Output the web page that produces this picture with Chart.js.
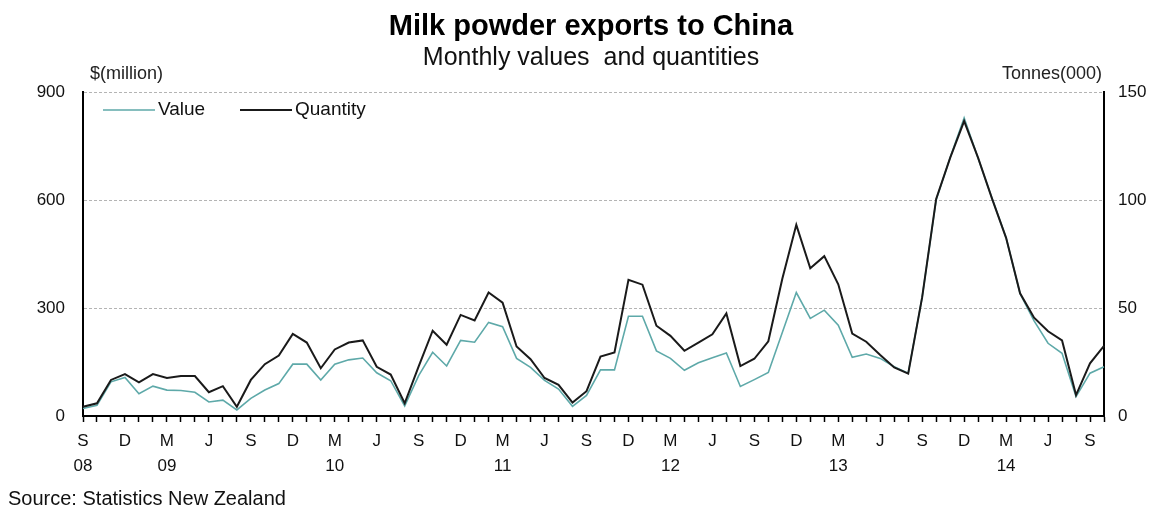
<!DOCTYPE html>
<html>
<head>
<meta charset="utf-8">
<script src="https://cdn.jsdelivr.net/npm/chart.js@4/dist/chart.umd.min.js"></script>
<style>
  html, body { margin: 0; padding: 0; background: #fff; }
  #wrap { width: 1162px; height: 508px; position: relative; }
</style>
</head>
<body>
<div id="wrap"><canvas id="chart"></canvas></div>
<script>
// monthly series, Sep 2008 .. Oct 2014
const valueMillions = [
  21, 30, 95, 107, 62, 83, 72, 71, 66, 39, 44, 17,
  49, 72, 90, 144, 144, 100, 144, 156, 161, 120, 98, 28,
  112, 177, 139, 210, 205, 260, 248, 160, 135, 99, 75, 27,
  57, 128, 128, 277, 277, 181, 160, 127, 148, 162, 175, 82,
  101, 121, 232, 343, 271, 294, 252, 163, 172, 160, 137, 119,
  330, 600, 718, 828, 716, 604, 495, 340, 264, 202, 174, 54,
  119, 137
]
const quantityKt = [
  4.3, 5.9, 16.7, 19.4, 15.6, 19.4, 17.6, 18.5, 18.5, 11, 13.8, 4.3,
  16.7, 24, 28, 38, 34, 22.1, 30.8, 34, 35, 22.8, 19.2, 5.9,
  23, 39.5, 33, 46.8, 44.2, 57.2, 52.5, 32.2, 26.3, 17.6, 14.4, 6.2,
  11.5, 27.5, 29.4, 63, 60.8, 41.8, 37.1, 30.2, 34, 37.8, 47.5, 23.1,
  26.5, 34.6, 63.5, 88.5, 68.4, 74, 61, 38.2, 34.4, 28.2, 22.5, 19.6,
  55, 100.5, 119.5, 136.5, 119.5, 100.5, 82.5, 56.8, 45.5, 39.2, 35, 9.7,
  24.4, 32.5
]

const monthNames = ["Jan","Feb","Mar","Apr","May","Jun","Jul","Aug","Sep","Oct","Nov","Dec"]
const quarterLetters = { Sep: "S", Dec: "D", Mar: "M", Jun: "J" }
const yearTickMonths = ["Sep 08", "Mar 09", "Mar 10", "Mar 11", "Mar 12", "Mar 13", "Mar 14"]
const leftTicks = [0, 300, 600, 900]
const rightTicks = [0, 50, 100, 150]

// category names "Sep 08", "Oct 08", ...
const months = []
for (var i = 0; i < valueMillions.length; i++) {
    var m = (8 + i) % 12
    var yy = 8 + Math.floor((8 + i) / 12)
    months.push(monthNames[m] + " " + (yy < 10 ? "0" + yy : "" + yy))
}

const FONT = "'Liberation Sans', Arial, sans-serif"
const TEAL = "#5ea9a9"
const DARK = "#1a1a1a"

// texts that sit outside the normal Chart.js boxes
const textPlugin = {
    id: "textPlugin",
    afterDraw(chart) {
        const ctx = chart.ctx
        const area = chart.chartArea
        ctx.save()
        ctx.fillStyle = "#000"
        ctx.textBaseline = "middle"

        ctx.textAlign = "center"
        ctx.font = "bold 29px " + FONT
        ctx.fillText("Milk powder exports to China", 591, 27)
        ctx.font = "25px " + FONT
        ctx.fillStyle = "#111"
        ctx.fillText("Monthly values  and quantities", 591, 58)

        ctx.font = "18px " + FONT
        ctx.fillStyle = "#222"
        ctx.textAlign = "left"
        ctx.fillText("$(million)", area.left + 7, 74)
        ctx.textAlign = "right"
        ctx.fillText("Tonnes(000)", area.right - 2, 74)

        // legend
        var lx = area.left + 20
        var ly = area.top + 18
        ctx.font = "19px " + FONT
        ctx.textAlign = "left"
        chart.data.datasets.forEach(function(ds) {
            ctx.strokeStyle = ds.borderColor
            ctx.lineWidth = ds.borderWidth
            ctx.beginPath()
            ctx.moveTo(lx, ly)
            ctx.lineTo(lx + 52, ly)
            ctx.stroke()
            ctx.fillStyle = "#111"
            ctx.fillText(ds.label, lx + 55, ly)
            lx += 137
        })

        ctx.font = "20px " + FONT
        ctx.fillStyle = "#111"
        ctx.textAlign = "left"
        ctx.textBaseline = "top"
        ctx.fillText("Source: Statistics New Zealand", 8, 489)
        ctx.restore()
    }
}

const config = {
    type: "line",
    data: {
        labels: months,
        datasets: [{
            label: "Value",
            data: valueMillions,
            yAxisID: "y",
            borderColor: TEAL,
            borderWidth: 1.6,
            pointRadius: 0,
            tension: 0,
            order: 1
        }, {
            label: "Quantity",
            data: quantityKt,
            yAxisID: "y2",
            borderColor: DARK,
            borderWidth: 2,
            pointRadius: 0,
            tension: 0,
            order: 0
        }]
    },
    options: {
        responsive: false,
        animation: false,
        layout: { padding: { top: 92, bottom: 0, left: 0, right: 0 } },
        plugins: {
            legend: { display: false },
            title: { display: false },
            tooltip: { enabled: false }
        },
        scales: {
            x: {
                type: "category",
                offset: false,
                grid: {
                    drawOnChartArea: false,
                    drawTicks: true,
                    tickLength: 6,
                    tickColor: "#000",
                    tickWidth: 1.5
                },
                border: { display: true, color: "#000", width: 2 },
                ticks: {
                    autoSkip: false,
                    maxRotation: 0,
                    minRotation: 0,
                    padding: 7,
                    color: "#111",
                    font: { family: FONT, size: 17, lineHeight: 1.45 },
                    callback: function(val, idx) {
                        var name = months[idx]
                        var mon = name.slice(0, 3)
                        var letter = quarterLetters[mon] || ""
                        var year = yearTickMonths.indexOf(name) >= 0 ? name.slice(4) : ""
                        return [letter, year]
                    }
                },
                afterFit: function(s) { s.height = 92 }
            },
            y: {
                position: "left",
                min: 0,
                max: 900,
                afterBuildTicks: function(s) { s.ticks = leftTicks.map(function(v) { return { value: v } }) },
                grid: {
                    drawTicks: false,
                    lineWidth: 1,
                    color: function(c) { return c.tick && c.tick.value === 0 ? "rgba(0,0,0,0)" : "#b4b4b4" }
                },
                border: { display: true, color: "#000", width: 2, dash: [3, 2] },
                ticks: {
                    padding: 18,
                    color: "#111",
                    font: { family: FONT, size: 17 }
                },
                afterFit: function(s) { s.width = 83 }
            },
            y2: {
                position: "right",
                min: 0,
                max: 150,
                afterBuildTicks: function(s) { s.ticks = rightTicks.map(function(v) { return { value: v } }) },
                grid: { drawOnChartArea: false, drawTicks: false },
                border: { display: true, color: "#000", width: 2 },
                ticks: {
                    padding: 14,
                    color: "#111",
                    font: { family: FONT, size: 17 }
                },
                afterFit: function(s) { s.width = 58 }
            }
        }
    },
    plugins: [textPlugin]
}

const canvas = document.getElementById("chart")
canvas.width = 1162
canvas.height = 508
new Chart(canvas, config)
</script>
</body>
</html>
